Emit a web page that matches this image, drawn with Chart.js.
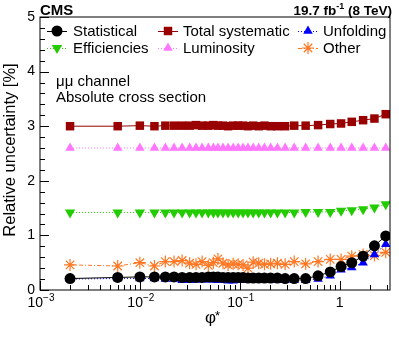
<!DOCTYPE html>
<html lang="en">
<head>
    <meta charset="UTF-8">
    <title>Relative uncertainty vs phi*</title>
    <script src="https://cdn.jsdelivr.net/npm/chart.js"></script>
    <style>
        html, body { margin: 0; padding: 0; background: #fff; }
        .chart-container { position: relative; width: 399px; height: 337px; }
    </style>
</head>
<body>
    <div class="chart-container">
        <canvas id="uncChart" width="399" height="337"></canvas>
    </div>

    <script>
        // phi* bin centres
        const phiStar = [0.002, 0.006, 0.010, 0.014, 0.018, 0.022, 0.0265, 0.0315, 0.0365, 0.042,
            0.0485, 0.0545, 0.0605, 0.068, 0.0765, 0.086, 0.0965, 0.108, 0.121, 0.1365,
            0.155, 0.177, 0.204, 0.2385, 0.285, 0.3515, 0.4575, 0.6095, 0.8065, 1.0355,
            1.3245, 1.7215, 2.2345, 2.8995];

        // relative uncertainties in %
        const statistical = [0.21, 0.23, 0.24, 0.24, 0.24, 0.24, 0.23, 0.23, 0.23, 0.23,
            0.24, 0.24, 0.24, 0.23, 0.23, 0.23, 0.23, 0.23, 0.22, 0.22,
            0.22, 0.22, 0.22, 0.22, 0.21, 0.21, 0.21, 0.26, 0.33, 0.43,
            0.50, 0.62, 0.81, 0.99];
        const totalSyst = [3.00, 3.00, 3.01, 3.00, 3.01, 3.01, 3.01, 3.01, 3.02, 3.01,
            3.01, 3.02, 3.01, 3.01, 3.00, 3.01, 3.01, 3.01, 3.00, 3.01,
            3.00, 3.01, 3.00, 3.00, 3.00, 3.01, 3.01, 3.02, 3.04, 3.05,
            3.08, 3.11, 3.14, 3.22];
        const unfolding = [0.20, 0.21, 0.21, 0.21, 0.20, 0.20, 0.18, 0.18, 0.19, 0.19,
            0.19, 0.19, 0.18, 0.18, 0.17, 0.17, 0.18, 0.18, 0.18, 0.18,
            0.18, 0.18, 0.18, 0.18, 0.18, 0.18, 0.18, 0.20, 0.26, 0.37,
            0.41, 0.50, 0.65, 0.84];
        const efficiencies = [1.42, 1.42, 1.42, 1.42, 1.42, 1.42, 1.42, 1.42, 1.42, 1.42,
            1.42, 1.42, 1.42, 1.42, 1.42, 1.42, 1.42, 1.42, 1.42, 1.42,
            1.42, 1.42, 1.42, 1.42, 1.42, 1.42, 1.43, 1.43, 1.43, 1.45,
            1.46, 1.48, 1.51, 1.57];
        const luminosity = [2.6, 2.6, 2.6, 2.6, 2.6, 2.6, 2.6, 2.6, 2.6, 2.6,
            2.6, 2.6, 2.6, 2.6, 2.6, 2.6, 2.6, 2.6, 2.6, 2.6,
            2.6, 2.6, 2.6, 2.6, 2.6, 2.6, 2.6, 2.6, 2.6, 2.6,
            2.6, 2.6, 2.6, 2.6];
        const other = [0.46, 0.44, 0.50, 0.44, 0.52, 0.52, 0.54, 0.49, 0.47, 0.52,
            0.45, 0.50, 0.57, 0.49, 0.46, 0.48, 0.47, 0.46, 0.40, 0.51,
            0.49, 0.47, 0.48, 0.49, 0.47, 0.52, 0.48, 0.52, 0.56, 0.56,
            0.62, 0.65, 0.63, 0.69];

        const yTicks = [0, 1, 2, 3, 4, 5];
        const xDecades = [-3, -2, -1, 0];

        const FONT = '"Liberation Sans", Arial, Helvetica, sans-serif';

        function pts(ys) {
            return phiStar.map((x, i) => ({ x: x, y: ys[i] }));
        }

        // legend slots: [dataset index, marker x, text x, row y]
        const legendSlots = [
            [0, 57, 73, 31], [1, 168, 183, 31], [2, 308, 323, 31],
            [3, 57, 73, 48], [4, 168, 183, 48], [5, 308, 323, 48]
        ];

        const datasets = [
            { label: 'Statistical', data: pts(statistical), borderColor: '#000000', backgroundColor: '#000000',
              borderWidth: 1, pointStyle: 'circle', pointRadius: 5.5, pointBorderWidth: 0 },
            { label: 'Total systematic', data: pts(totalSyst), borderColor: '#990000', backgroundColor: '#990000',
              borderWidth: 1, pointStyle: 'rect', pointRadius: 6, pointBorderWidth: 0 },
            { label: 'Unfolding', data: pts(unfolding), borderColor: '#0000ff', backgroundColor: '#0000ff',
              borderWidth: 1, borderDash: [1, 2], pointStyle: 'triangle', pointRadius: 5.5, pointBorderWidth: 0 },
            { label: 'Efficiencies', data: pts(efficiencies), borderColor: '#22cc00', backgroundColor: '#22cc00',
              borderWidth: 1, borderDash: [1, 2], pointStyle: 'triangle', rotation: 180, pointRadius: 6, pointBorderWidth: 0 },
            { label: 'Luminosity', data: pts(luminosity), borderColor: '#ff77ff', backgroundColor: '#ff77ff',
              borderWidth: 1, borderDash: [1, 2], pointStyle: 'triangle', pointRadius: 5.5, pointBorderWidth: 0 },
            { label: 'Other', data: pts(other), borderColor: '#ff7722', backgroundColor: '#ff7722',
              borderWidth: 1, borderDash: [4, 2, 1, 2], pointStyle: 'star', pointRadius: 6, pointBorderWidth: 1.2 }
        ];

        function drawSupLabel(ctx, base, exp, cx, baseline, size) {
            ctx.font = size + 'px ' + FONT;
            const wb = ctx.measureText(base).width;
            ctx.font = Math.round(size * 0.7) + 'px ' + FONT;
            const we = ctx.measureText(exp).width;
            const left = cx - (wb + we) / 2;
            ctx.textAlign = 'left';
            ctx.font = size + 'px ' + FONT;
            ctx.fillText(base, left, baseline);
            ctx.font = Math.round(size * 0.7) + 'px ' + FONT;
            ctx.fillText(exp, left + wb, baseline - size * 0.45);
        }

        const framePlugin = {
            id: 'rootFrame',
            afterDatasetsDraw(chart) {
                const ctx = chart.ctx;
                const a = chart.chartArea;
                const xs = chart.scales.x;
                const ys = chart.scales.y;
                ctx.save();
                ctx.strokeStyle = '#000';
                ctx.fillStyle = '#000';
                ctx.lineWidth = 1;
                ctx.setLineDash([]);
                ctx.strokeRect(a.left, a.top, a.right - a.left, a.bottom - a.top);

                // y ticks (inward)
                ctx.beginPath();
                for (let v = 0; v <= 5.0001; v += 0.2) {
                    const py = Math.round(ys.getPixelForValue(v)) + 0.5;
                    const major = Math.abs(v - Math.round(v)) < 1e-6;
                    ctx.moveTo(a.left, py);
                    ctx.lineTo(a.left + (major ? 9 : 5), py);
                }
                ctx.stroke();
                ctx.font = '14px ' + FONT;
                ctx.textAlign = 'right';
                ctx.textBaseline = 'middle';
                yTicks.forEach(v => ctx.fillText(String(v), 35, ys.getPixelForValue(v)));

                // x ticks (inward), log minor ticks
                ctx.beginPath();
                xDecades.forEach(d => {
                    for (let m = 1; m <= 9; m++) {
                        const val = m * Math.pow(10, d);
                        if (val < xs.min || val > xs.max) continue;
                        const px = Math.round(xs.getPixelForValue(val)) + 0.5;
                        ctx.moveTo(px, a.bottom);
                        ctx.lineTo(px, a.bottom - (m === 1 ? 9 : 5));
                    }
                });
                ctx.stroke();
                ctx.textBaseline = 'alphabetic';
                xDecades.forEach(d => {
                    const px = xs.getPixelForValue(Math.pow(10, d));
                    if (d === 0) {
                        ctx.font = '14px ' + FONT;
                        ctx.textAlign = 'center';
                        ctx.fillText('1', px, 307);
                    } else {
                        drawSupLabel(ctx, '10', '\u2212' + (-d), px + 1, 307, 14);
                    }
                });

                // axis titles
                ctx.font = '17px ' + FONT;
                ctx.textAlign = 'left';
                ctx.fillText('\u03c6', 205, 323);
                ctx.font = '13px ' + FONT;
                ctx.fillText('*', 215, 320);

                ctx.save();
                ctx.translate(15, 150);
                ctx.rotate(-Math.PI / 2);
                ctx.font = '16.5px ' + FONT;
                ctx.textAlign = 'center';
                ctx.fillText('Relative uncertainty [%]', 0, 0);
                ctx.restore();

                // header texts
                ctx.font = 'bold 15px ' + FONT;
                ctx.textAlign = 'left';
                ctx.fillText('CMS', 40, 15);
                const p1 = '19.7 fb', p2 = '-1', p3 = ' (8 TeV)';
                ctx.font = 'bold 13.5px ' + FONT;
                const w1 = ctx.measureText(p1).width, w3 = ctx.measureText(p3).width;
                ctx.font = 'bold 9px ' + FONT;
                const w2 = ctx.measureText(p2).width;
                let x0 = 392 - (w1 + w2 + w3);
                ctx.font = 'bold 13.5px ' + FONT;
                ctx.fillText(p1, x0, 15);
                ctx.font = 'bold 9px ' + FONT;
                ctx.fillText(p2, x0 + w1, 9);
                ctx.font = 'bold 13.5px ' + FONT;
                ctx.fillText(p3, x0 + w1 + w2, 15);

                ctx.font = '15px ' + FONT;
                ctx.fillText('\u03bc\u03bc channel', 56, 86);
                ctx.fillText('Absolute cross section', 56, 102);

                // legend
                legendSlots.forEach(([i, mx, tx, ry]) => {
                    const ds = chart.data.datasets[i];
                    ctx.strokeStyle = ds.borderColor;
                    ctx.lineWidth = 1;
                    ctx.setLineDash(ds.borderDash || []);
                    ctx.beginPath();
                    ctx.moveTo(mx - 10, ry + 0.5);
                    ctx.lineTo(mx + 10, ry + 0.5);
                    ctx.stroke();
                    ctx.setLineDash([]);
                    ctx.fillStyle = ds.backgroundColor;
                    ctx.lineWidth = ds.pointBorderWidth || 1;
                    Chart.helpers.drawPoint(ctx, {
                        pointStyle: ds.pointStyle,
                        rotation: ds.rotation || 0,
                        radius: ds.pointRadius,
                        borderWidth: ds.pointBorderWidth
                    }, mx, ry);
                    ctx.fillStyle = '#000';
                    ctx.font = '15px ' + FONT;
                    ctx.textAlign = 'left';
                    ctx.textBaseline = 'middle';
                    ctx.fillText(ds.label, tx, ry + 1);
                });
                ctx.restore();
            }
        };

        new Chart(document.getElementById('uncChart'), {
            type: 'line',
            data: { datasets: datasets },
            options: {
                responsive: false,
                animation: false,
                layout: { padding: { left: 40, top: 17, right: 9, bottom: 47 } },
                elements: { line: { tension: 0 } },
                plugins: { legend: { display: false }, tooltip: { enabled: false } },
                scales: {
                    x: { type: 'logarithmic', min: 0.001, max: 3.2, display: false },
                    y: { type: 'linear', min: 0, max: 5, display: false }
                }
            },
            plugins: [framePlugin]
        });
    </script>
</body>
</html>
